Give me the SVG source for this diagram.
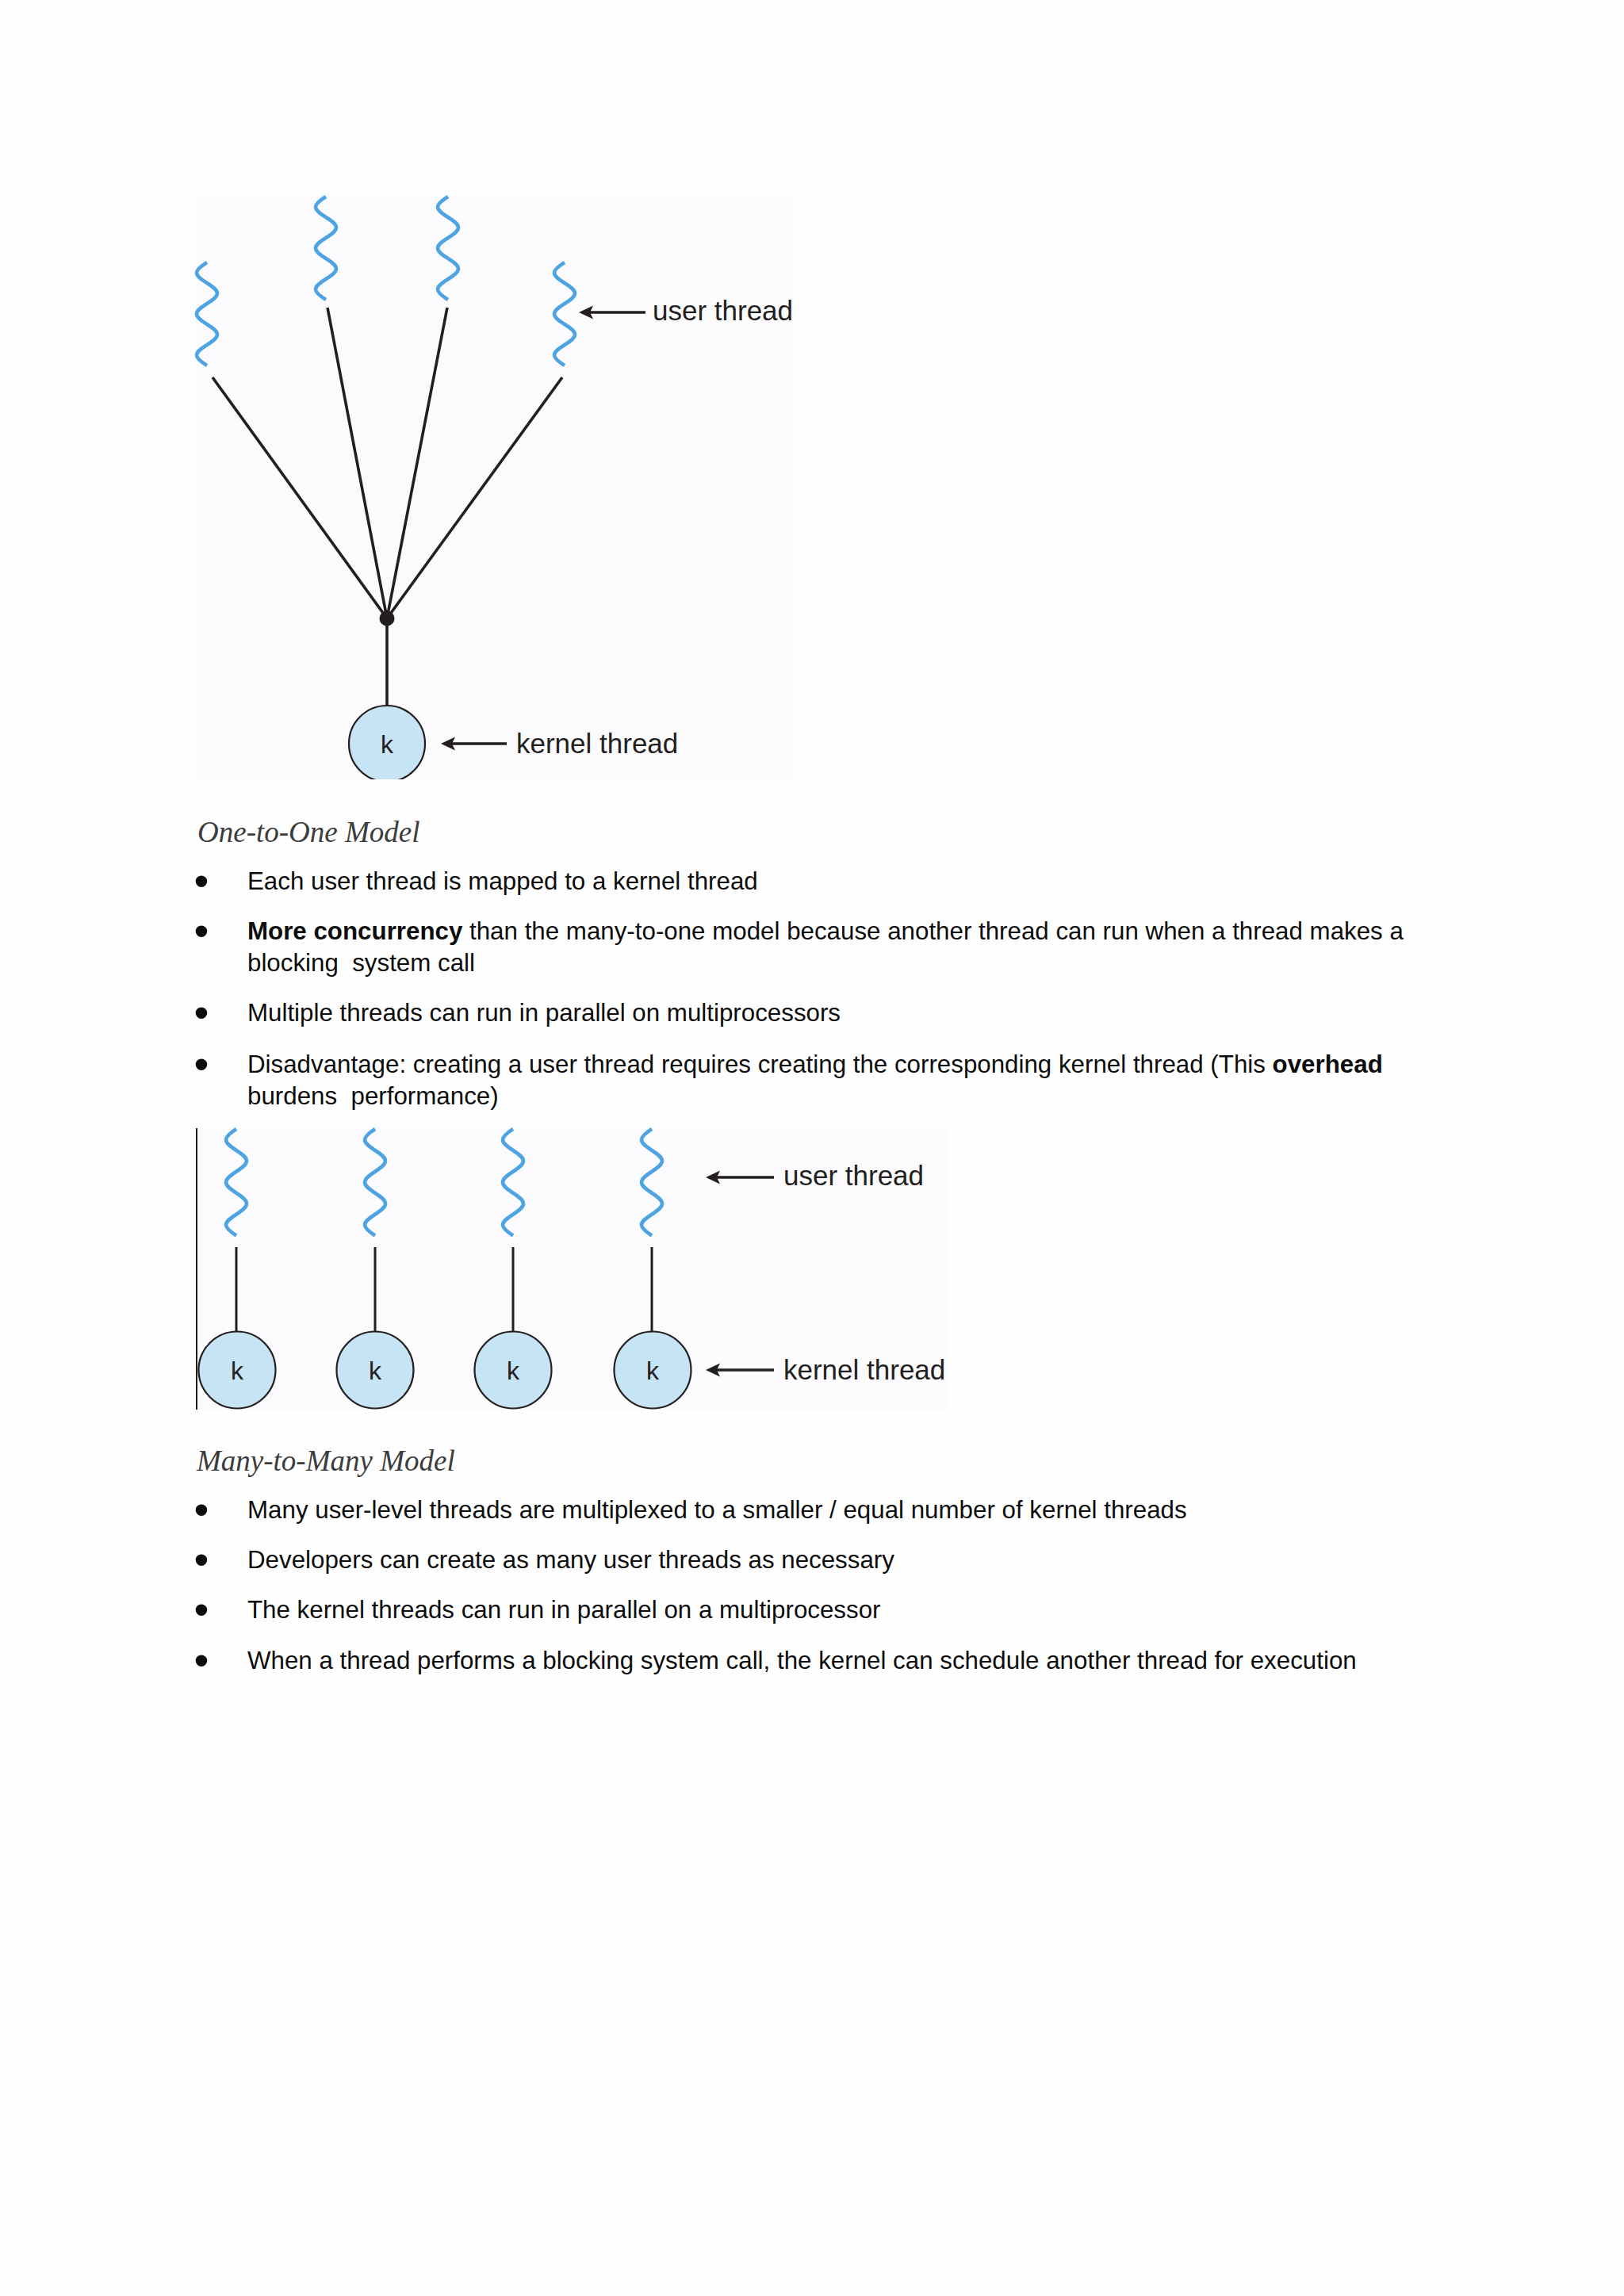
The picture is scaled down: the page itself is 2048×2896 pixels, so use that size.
<svg xmlns="http://www.w3.org/2000/svg" xmlns:xlink="http://www.w3.org/1999/xlink" width="2048" height="2896" viewBox="0 0 2048 2896">
<style>
.bg{fill:#fefefe}
.panel{fill:#fbfafd}
.wave{fill:none;stroke:#4ea4e2;stroke-width:4.6}
.conn{stroke:#231f20;stroke-width:3.6;fill:none}
.conn2{stroke:#231f20;stroke-width:3;fill:none}
.arrow{stroke:#231f20;stroke-width:3.6;fill:none;marker-end:url(#ah)}
.knode{fill:#c6e4f4;stroke:#231f20;stroke-width:2.2}
.klabel{font-family:"Liberation Sans",Arial,sans-serif;font-size:32px;fill:#231f20;text-anchor:middle}
.lbl{font-family:"Liberation Sans",Arial,sans-serif;font-size:35px;fill:#231f20}
.title{font-family:"Liberation Serif","Times New Roman",serif;font-style:italic;font-size:37px;fill:#3c3c3c}
.body{font-family:"Liberation Sans",Arial,sans-serif;font-size:31.3px;fill:#0d0d0d;white-space:pre}
.bul{font-family:"Liberation Sans",Arial,sans-serif;font-size:54px;fill:#0d0d0d}
.b{font-weight:bold}
</style>
<defs>
<marker id="ah" viewBox="-20 -10 22 20" refX="-14" refY="0" markerWidth="22" markerHeight="20" markerUnits="userSpaceOnUse" orient="auto"><path d="M0,0 L-18,-8.5 L-14,0 L-18,8.5 Z" fill="#231f20"/></marker>
<path id="wave" d="M0,0 C-6.8,4.3 -13,8.7 -13,13 C-13,22.5 13,29.5 13,39 C13,48.5 -13,55.5 -13,65 C-13,74.5 13,81.5 13,91 C13,100.5 -13,107.5 -13,117 C-13,121.3 -6.8,125.7 0,130"/>
<clipPath id="clip1"><rect x="247" y="247" width="753" height="736"/></clipPath>
</defs>
<rect class="bg" x="0" y="0" width="2048" height="2896"/>

<!-- Diagram 1: many-to-one -->
<g id="diagram1">
<rect id="d1-panel" class="panel" x="247" y="247" width="753" height="736"/>
<g id="connectors1">
<line class="conn" x1="268" y1="476" x2="488" y2="780"/>
<line class="conn" x1="413" y1="388" x2="488" y2="780"/>
<line class="conn" x1="564" y1="388" x2="488" y2="780"/>
<line class="conn" x1="709" y1="476" x2="488" y2="780"/>
<line class="conn" x1="488" y1="780" x2="488" y2="890"/>
<line class="arrow" x1="814" y1="394" x2="744" y2="394"/>
<line class="arrow" x1="639" y1="938" x2="570" y2="938"/>
</g>
<g id="d1-u1"><use xlink:href="#wave" class="wave" transform="translate(261,331)"/></g>
<g id="d1-u2"><use xlink:href="#wave" class="wave" transform="translate(411,248)"/></g>
<g id="d1-u3"><use xlink:href="#wave" class="wave" transform="translate(565,248)"/></g>
<g id="d1-u4"><use xlink:href="#wave" class="wave" transform="translate(712,331)"/></g>
<g id="d1-junction"><circle cx="488" cy="780" r="9.5" fill="#231f20"/></g>
<g id="d1-k" clip-path="url(#clip1)"><circle class="knode" cx="488" cy="938" r="48"/><text class="klabel" x="488" y="950">k</text></g>
<g id="d1-labels">
<text class="lbl" x="823" y="404">user thread</text>
<text class="lbl" x="651" y="950">kernel thread</text>
</g>
</g>

<g id="section1">
<text class="title" x="249" y="1062">One-to-One Model</text>
<text class="bul" x="244.5" y="1130">•</text>
<text class="body" x="312" y="1122">Each user thread is mapped to a kernel thread</text>
<text class="bul" x="244.5" y="1193">•</text>
<text class="body" x="312" y="1185"><tspan class="b">More concurrency</tspan> than the many-to-one model because another thread can run when a thread makes a</text>
<text class="body" x="312" y="1225" xml:space="preserve">blocking  system call</text>
<text class="bul" x="244.5" y="1296">•</text>
<text class="body" x="312" y="1288">Multiple threads can run in parallel on multiprocessors</text>
<text class="bul" x="244.5" y="1361">•</text>
<text class="body" x="312" y="1353">Disadvantage: creating a user thread requires creating the corresponding kernel thread (This <tspan class="b">overhead</tspan></text>
<text class="body" x="312" y="1393" xml:space="preserve">burdens  performance)</text>
</g>

<!-- Diagram 2: one-to-one -->
<g id="diagram2">
<rect id="d2-panel" class="panel" x="248" y="1423" width="948" height="355"/>
<line x1="248" y1="1423" x2="248" y2="1778" stroke="#231f20" stroke-width="2"/>
<g id="connectors2">
<line class="conn2" x1="298" y1="1573" x2="298" y2="1680"/>
<line class="conn2" x1="473" y1="1573" x2="473" y2="1680"/>
<line class="conn2" x1="647" y1="1573" x2="647" y2="1680"/>
<line class="conn2" x1="822" y1="1573" x2="822" y2="1680"/>
<line class="arrow" x1="976" y1="1485" x2="904" y2="1485"/>
<line class="arrow" x1="976" y1="1728" x2="904" y2="1728"/>
</g>
<g id="d2-u1"><use xlink:href="#wave" class="wave" transform="translate(298,1424) scale(1,1.035)"/></g>
<g id="d2-u2"><use xlink:href="#wave" class="wave" transform="translate(473,1424) scale(1,1.035)"/></g>
<g id="d2-u3"><use xlink:href="#wave" class="wave" transform="translate(647,1424) scale(1,1.035)"/></g>
<g id="d2-u4"><use xlink:href="#wave" class="wave" transform="translate(822,1424) scale(1,1.035)"/></g>
<g id="d2-k1"><circle class="knode" cx="299" cy="1728" r="48.5"/><text class="klabel" x="299" y="1740">k</text></g>
<g id="d2-k2"><circle class="knode" cx="473" cy="1728" r="48.5"/><text class="klabel" x="473" y="1740">k</text></g>
<g id="d2-k3"><circle class="knode" cx="647" cy="1728" r="48.5"/><text class="klabel" x="647" y="1740">k</text></g>
<g id="d2-k4"><circle class="knode" cx="823" cy="1728" r="48.5"/><text class="klabel" x="823" y="1740">k</text></g>
<g id="d2-labels">
<text class="lbl" x="988" y="1495">user thread</text>
<text class="lbl" x="988" y="1740">kernel thread</text>
</g>
</g>

<g id="section2">
<text class="title" x="248" y="1855">Many-to-Many Model</text>
<text class="bul" x="244.5" y="1923">•</text>
<text class="body" x="312" y="1915">Many user-level threads are multiplexed to a smaller / equal number of kernel threads</text>
<text class="bul" x="244.5" y="1986">•</text>
<text class="body" x="312" y="1978">Developers can create as many user threads as necessary</text>
<text class="bul" x="244.5" y="2049">•</text>
<text class="body" x="312" y="2041">The kernel threads can run in parallel on a multiprocessor</text>
<text class="bul" x="244.5" y="2113">•</text>
<text class="body" x="312" y="2105">When a thread performs a blocking system call, the kernel can schedule another thread for execution</text>
</g>
</svg>
